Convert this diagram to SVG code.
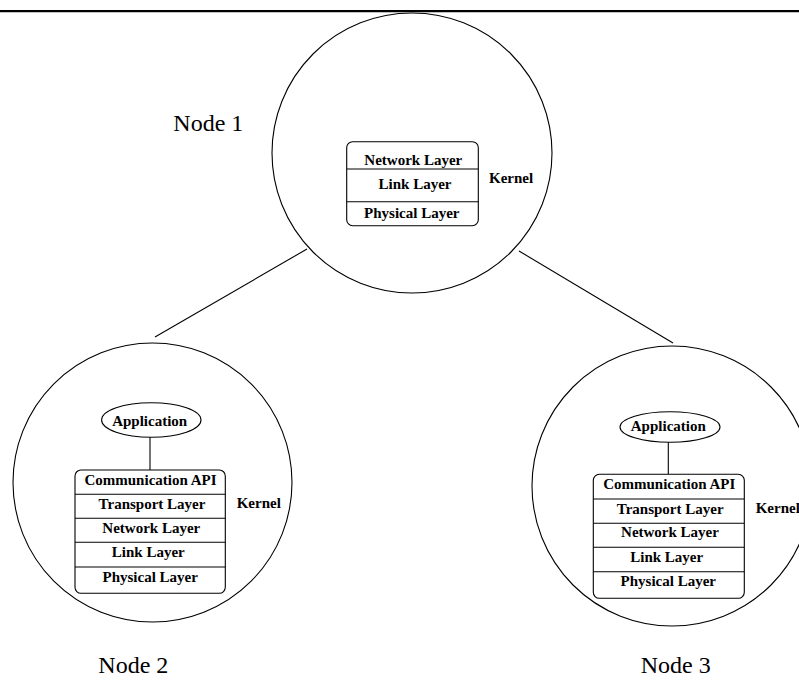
<svg xmlns="http://www.w3.org/2000/svg" width="799" height="683" viewBox="0 0 799 683">
<style>
.c{fill:none;stroke:#000;stroke-width:1.1}
.b{fill:#fff;stroke:#000;stroke-width:1.1}
.d{stroke:#000;stroke-width:1.1}
.t{font-family:"Liberation Serif","Times New Roman",serif;font-weight:bold;font-size:15px;fill:#000;text-anchor:middle}
.k{font-family:"Liberation Serif","Times New Roman",serif;font-weight:bold;font-size:15px;fill:#000}
.n{font-family:"Liberation Serif","Times New Roman",serif;font-size:24px;fill:#000}
</style>
<rect width="799" height="683" fill="#fff"/>
<line x1="0" y1="11.2" x2="799" y2="11.2" stroke="#000" stroke-width="2.3"/>
<g id="connectors">
<line class="d" x1="307" y1="249" x2="155" y2="337"/>
<line class="d" x1="519" y1="251" x2="673" y2="343"/>
</g>
<g id="node1">
<circle class="c" cx="412" cy="153" r="140"/>
<rect class="b" x="346.7" y="141.7" width="131.6" height="84" rx="6"/>
<line class="d" x1="346.7" y1="169" x2="478.3" y2="169"/>
<line class="d" x1="346.7" y1="201.7" x2="478.3" y2="201.7"/>
<text class="t" x="413.3" y="165">Network Layer</text>
<text class="t" x="415" y="189">Link Layer</text>
<text class="t" x="411.8" y="217.7">Physical Layer</text>
<text class="k" x="489" y="183.3">Kernel</text>
<text class="n" x="173.3" y="130.7">Node 1</text>
</g>
<g id="node2">
<circle class="c" cx="152.5" cy="482.5" r="139.5"/>
<ellipse class="c" cx="151.3" cy="420" rx="49.7" ry="17.3"/>
<text class="t" x="149.7" y="425.7">Application</text>
<line class="d" x1="150" y1="437.3" x2="150" y2="470"/>
<rect class="b" x="75" y="470" width="150.3" height="123.3" rx="6"/>
<line class="d" x1="75" y1="494.3" x2="225.3" y2="494.3"/>
<line class="d" x1="75" y1="518.3" x2="225.3" y2="518.3"/>
<line class="d" x1="75" y1="542.3" x2="225.3" y2="542.3"/>
<line class="d" x1="75" y1="567" x2="225.3" y2="567"/>
<text class="t" x="150.5" y="485">Communication API</text>
<text class="t" x="152" y="509.3">Transport Layer</text>
<text class="t" x="151.3" y="532.7">Network Layer</text>
<text class="t" x="148.3" y="556.7">Link Layer</text>
<text class="t" x="150.2" y="581.7">Physical Layer</text>
<text class="k" x="236.7" y="508.3">Kernel</text>
<text class="n" x="98.3" y="672.7">Node 2</text>
</g>
<g id="node3">
<circle class="c" cx="672" cy="486" r="140"/>
<ellipse class="c" cx="670" cy="427" rx="50" ry="15.3"/>
<text class="t" x="668.3" y="431">Application</text>
<line class="d" x1="668.3" y1="442.3" x2="668.3" y2="474.3"/>
<rect class="b" x="593.3" y="474.3" width="151" height="124" rx="6"/>
<line class="d" x1="593.3" y1="499" x2="744.3" y2="499"/>
<line class="d" x1="593.3" y1="523.3" x2="744.3" y2="523.3"/>
<line class="d" x1="593.3" y1="547.3" x2="744.3" y2="547.3"/>
<line class="d" x1="593.3" y1="571.7" x2="744.3" y2="571.7"/>
<text class="t" x="669.2" y="489.3">Communication API</text>
<text class="t" x="670.2" y="514">Transport Layer</text>
<text class="t" x="670" y="537.3">Network Layer</text>
<text class="t" x="666.7" y="561.7">Link Layer</text>
<text class="t" x="668.3" y="585.7">Physical Layer</text>
<text class="k" x="755.7" y="513.3">Kernel</text>
<text class="n" x="640.7" y="672.7">Node 3</text>
</g>
</svg>
